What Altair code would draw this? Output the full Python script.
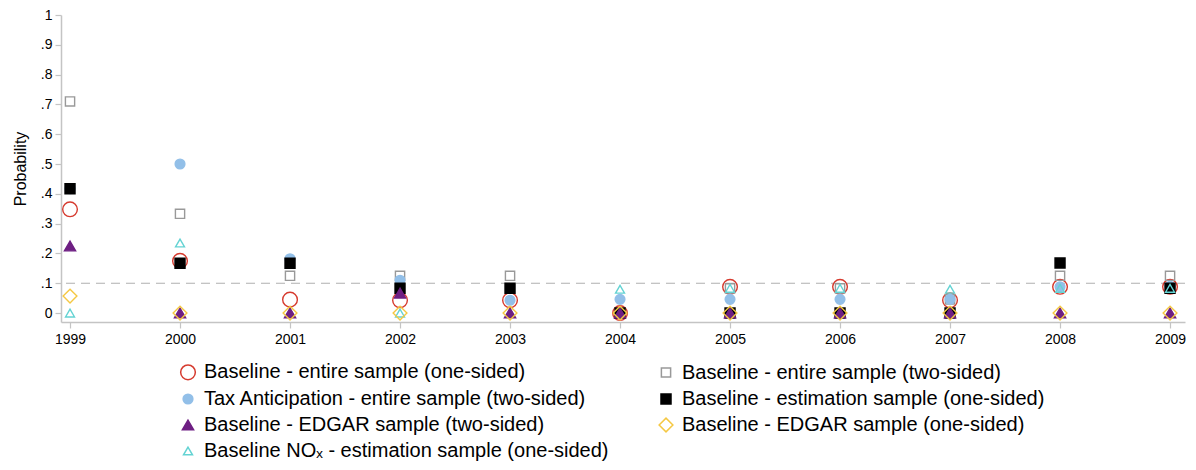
import altair as alt
import pandas as pd

years = list(range(1999, 2010))
series_names = [
    "Baseline - entire sample (one-sided)",
    "Baseline - entire sample (two-sided)",
    "Tax Anticipation - entire sample (two-sided)",
    "Baseline - estimation sample (one-sided)",
    "Baseline - EDGAR sample (two-sided)",
    "Baseline - EDGAR sample (one-sided)",
    "Baseline NOₓ - estimation sample (one-sided)",
]
base_entire_one = [0.348, 0.175, 0.045, 0.043, 0.043, 0.0, 0.088, 0.088, 0.043, 0.088, 0.088]
base_entire_two = [0.71, 0.333, 0.125, 0.125, 0.125, 0.0, 0.083, 0.083, 0.046, 0.125, 0.125]
tax_two = [0.417, 0.5, 0.182, 0.11, 0.043, 0.046, 0.046, 0.046, 0.046, 0.088, 0.09]
base_est_one = [0.417, 0.167, 0.167, 0.083, 0.083, 0.0, 0.0, 0.0, 0.0, 0.168, 0.083]
edgar_two = [0.225, 0.0, 0.0, 0.067, 0.0, 0.0, 0.0, 0.0, 0.0, 0.0, 0.0]
edgar_one = [0.057, 0.0, 0.0, 0.0, 0.0, 0.0, 0.0, 0.0, 0.0, 0.0, 0.0]
nox_one = [0.0, 0.235, 0.0, 0.0, 0.0, 0.08, 0.083, 0.083, 0.08, 0.083, 0.083]
y_ticks = [0, 0.1, 0.2, 0.3, 0.4, 0.5, 0.6, 0.7, 0.8, 0.9, 1.0]
threshold = [0.1]

series_values = [base_entire_one, base_entire_two, tax_two, base_est_one,
                 edgar_two, edgar_one, nox_one]
fills = ["transparent", "transparent", "#92bfe8", "#000000", "#6e1f83", "transparent", "transparent"]
strokes = ["#d63b2f", "#999999", "#92bfe8", "#000000", "#6e1f83", "#f5c843", "#64d3d3"]
shapes = ["circle", "square", "circle", "square", "triangle-up", "diamond", "triangle-up"]
sizes = [215, 85, 95, 100, 125, 190, 80]
draw_order = [0, 1, 2, 3, 6, 4, 5]
# legend fills column by column: left column first, then right column
legend_order = [0, 2, 4, 6, 1, 3, 5]

rows = []
for i in draw_order:
    for yr, v in zip(years, series_values[i]):
        rows.append({"year": yr, "p": v, "series": series_names[i]})
df = pd.DataFrame(rows)

dom = [series_names[i] for i in legend_order]
r_fill = [fills[i] for i in legend_order]
r_stroke = [strokes[i] for i in legend_order]
r_shape = [shapes[i] for i in legend_order]
r_size = [sizes[i] for i in legend_order]

legend = alt.Legend(
    title=None, orient="none", legendX=117, legendY=347, columns=2,
    labelFontSize=20, labelLimit=0, rowPadding=6, columnPadding=47,
    symbolStrokeWidth=1.5, labelOffset=6, padding=0,
)

xs = alt.X("year:Q", scale=alt.Scale(domain=[1998.918, 2009.136], nice=False, zero=False),
           axis=alt.Axis(values=years, format="d", title=None, grid=False,
                         labelFontSize=14, tickSize=6, labelPadding=4))
y_axis = alt.Axis(values=y_ticks,
                  labelExpr="datum.value == 0 ? '0' : datum.value == 1 ? '1' : replace(format(datum.value, '.1f'), '0.', '.')",
                  labelOverlap=False,
                  title="Probability", titleFontSize=16, titleFontWeight="normal",
                  titlePadding=12, grid=False, labelFontSize=14, tickSize=6,
                  labelPadding=3)
y_scale = alt.Scale(domain=[-0.03, 1.0], nice=False, zero=False)
ys = alt.Y("p:Q", scale=y_scale, axis=y_axis, title="Probability")

points = alt.Chart(df).mark_point(opacity=1, strokeWidth=1.4).encode(
    x=xs, y=ys,
    fill=alt.Fill("series:N", scale=alt.Scale(domain=dom, range=r_fill), legend=legend),
    stroke=alt.Stroke("series:N", scale=alt.Scale(domain=dom, range=r_stroke), legend=legend),
    shape=alt.Shape("series:N", scale=alt.Scale(domain=dom, range=r_shape), legend=legend),
    size=alt.Size("series:N", scale=alt.Scale(type="ordinal", domain=dom, range=r_size), legend=legend),
)

ref = alt.Chart(pd.DataFrame({"p": threshold})).mark_rule(
    strokeDash=[9, 6], color="#b0b0b0", strokeWidth=1.2
).encode(y=alt.Y("p:Q", scale=y_scale, axis=y_axis, title="Probability"))

chart = alt.layer(ref, points).properties(
    width=1124, height=307,
    autosize=alt.AutoSizeParams(type="none"),
    padding={"left": 53, "top": 7, "right": 3, "bottom": 140},
).configure(font="Liberation Sans").configure_view(stroke=None).configure_axis(
    domainColor="#c4c4c4", tickColor="#c4c4c4", domainWidth=1.5, tickWidth=1.2,
    labelColor="#000000", titleColor="#000000",
)

chart.save("out.html", embed_options={"renderer": "svg", "actions": False})
